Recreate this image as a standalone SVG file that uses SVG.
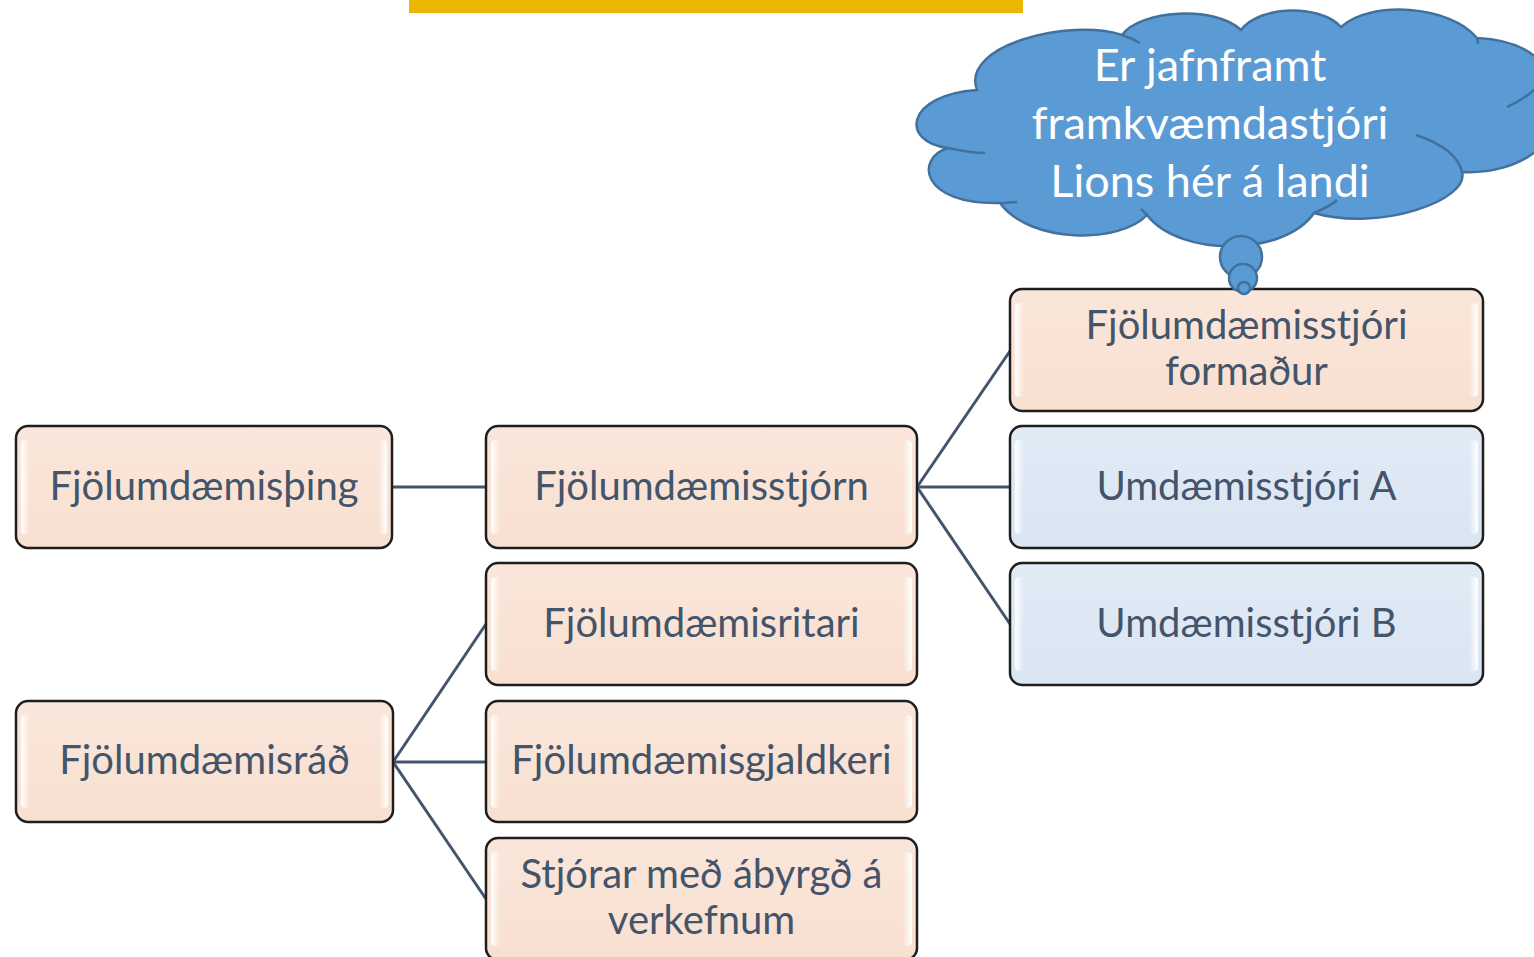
<svg xmlns="http://www.w3.org/2000/svg" width="1534" height="957" viewBox="0 0 1534 957">
<defs>
<linearGradient id="peach" x1="0" y1="0" x2="0" y2="1">
<stop offset="0" stop-color="#FAE6DA"/>
<stop offset="1" stop-color="#F8E0D1"/>
</linearGradient>
<linearGradient id="blue" x1="0" y1="0" x2="0" y2="1">
<stop offset="0" stop-color="#E1EBF6"/>
<stop offset="1" stop-color="#D9E5F2"/>
</linearGradient>
<linearGradient id="glossL" x1="0" y1="0" x2="1" y2="0">
<stop offset="0" stop-color="#FFFFFF" stop-opacity="1"/>
<stop offset="1" stop-color="#FFFFFF" stop-opacity="0"/>
</linearGradient>
<linearGradient id="glossR" x1="1" y1="0" x2="0" y2="0">
<stop offset="0" stop-color="#FFFFFF" stop-opacity="1"/>
<stop offset="1" stop-color="#FFFFFF" stop-opacity="0"/>
</linearGradient>
</defs>
<style>
.box{stroke:#1E1E1E;stroke-width:2.5}
.p{fill:url(#peach)}
.b{fill:url(#blue)}
.gl{fill:url(#glossL)}
.gr{fill:url(#glossR)}
.t{font-family:Lato,"Liberation Sans",sans-serif;font-size:40px;fill:#44546A;text-anchor:middle}
.ct{font-family:Lato,"Liberation Sans",sans-serif;font-size:45px;fill:#FFFFFF;text-anchor:middle}
.con{stroke:#44546A;stroke-width:3;fill:none}
.cloud{fill:#5B9BD5;stroke:#41719C;stroke-width:2.5}
.cin{fill:none;stroke:#41719C;stroke-width:2.5}
</style>
<rect id="topbar" x="409" y="0" width="614" height="13" fill="#EBB700"/>

<g id="connectors">
<line class="con" x1="392" y1="487" x2="486" y2="487"/>
<line class="con" x1="917" y1="487" x2="1010" y2="351"/>
<line class="con" x1="917" y1="487" x2="1010" y2="487"/>
<line class="con" x1="917" y1="487" x2="1010" y2="624"/>
<line class="con" x1="393" y1="762" x2="486" y2="624"/>
<line class="con" x1="393" y1="762" x2="486" y2="762"/>
<line class="con" x1="393" y1="762" x2="486" y2="899"/>
</g>

<g id="n-thing">
<rect class="box p" x="16" y="426" width="376" height="122" rx="12"/>
<rect class="gl" x="21" y="440" width="9" height="94" rx="4"/>
<rect class="gr" x="378" y="440" width="9" height="94" rx="4"/>
<text class="t" x="204" y="500">Fjölumdæmisþing</text>
</g>

<g id="n-stjorn">
<rect class="box p" x="486" y="426" width="431" height="122" rx="12"/>
<rect class="gl" x="491" y="440" width="9" height="94" rx="4"/>
<rect class="gr" x="903" y="440" width="9" height="94" rx="4"/>
<text class="t" x="701.5" y="500">Fjölumdæmisstjórn</text>
</g>

<g id="n-formadur">
<rect class="box p" x="1010" y="289" width="473" height="122" rx="12"/>
<rect class="gl" x="1015" y="303" width="9" height="94" rx="4"/>
<rect class="gr" x="1469" y="303" width="9" height="94" rx="4"/>
<text class="t" x="1246.5" y="339">Fjölumdæmisstjóri</text>
<text class="t" x="1246.5" y="385">formaður</text>
</g>

<g id="n-umdA">
<rect class="box b" x="1010" y="426" width="473" height="122" rx="12"/>
<rect class="gl" x="1015" y="440" width="9" height="94" rx="4"/>
<rect class="gr" x="1469" y="440" width="9" height="94" rx="4"/>
<text class="t" x="1246.5" y="500">Umdæmisstjóri A</text>
</g>

<g id="n-umdB">
<rect class="box b" x="1010" y="563" width="473" height="122" rx="12"/>
<rect class="gl" x="1015" y="577" width="9" height="94" rx="4"/>
<rect class="gr" x="1469" y="577" width="9" height="94" rx="4"/>
<text class="t" x="1246.5" y="637">Umdæmisstjóri B</text>
</g>

<g id="n-ritari">
<rect class="box p" x="486" y="563" width="431" height="122" rx="12"/>
<rect class="gl" x="491" y="577" width="9" height="94" rx="4"/>
<rect class="gr" x="903" y="577" width="9" height="94" rx="4"/>
<text class="t" x="701.5" y="637">Fjölumdæmisritari</text>
</g>

<g id="n-rad">
<rect class="box p" x="16" y="701" width="377" height="121" rx="12"/>
<rect class="gl" x="21" y="715" width="9" height="93" rx="4"/>
<rect class="gr" x="379" y="715" width="9" height="93" rx="4"/>
<text class="t" x="204.5" y="774">Fjölumdæmisráð</text>
</g>

<g id="n-gjaldkeri">
<rect class="box p" x="486" y="701" width="431" height="121" rx="12"/>
<rect class="gl" x="491" y="715" width="9" height="93" rx="4"/>
<rect class="gr" x="903" y="715" width="9" height="93" rx="4"/>
<text class="t" x="701.5" y="774">Fjölumdæmisgjaldkeri</text>
</g>

<g id="n-stjorar">
<rect class="box p" x="486" y="838" width="431" height="122" rx="12"/>
<rect class="gl" x="491" y="852" width="9" height="94" rx="4"/>
<rect class="gr" x="903" y="852" width="9" height="94" rx="4"/>
<text class="t" x="701.5" y="888">Stjórar með ábyrgð á</text>
<text class="t" x="701.5" y="934">verkefnum</text>
</g>

<g id="cloud">
<path class="cloud" d="M948,148 C900,142 905,95 977,90 C960,45 1070,18 1122,35 C1140,10 1215,5 1241,30 C1260,5 1320,4 1341,27 C1370,0 1450,5 1477,38 C1520,40 1560,60 1545,100 C1570,140 1520,175 1462,172 C1470,200 1380,232 1314,213 C1285,256 1180,258 1147,215 C1120,244 1030,244 1000,203 C920,205 915,158 948,148 Z"/>
<path class="cin" d="M948,148 C962,151 975,153 985,153"/>
<path class="cin" d="M1122,35 C1128,37 1135,40 1140,43"/>
<path class="cin" d="M1477,38 C1478,40 1478,42 1478,44"/>
<path class="cin" d="M1534,90 C1525,98 1516,103 1507,107"/>
<path class="cin" d="M1416,135 C1440,143 1458,155 1462,172"/>
<path class="cin" d="M1314,213 C1326,208 1333,204 1337,200"/>
<path class="cin" d="M1147,215 C1145,213 1143,211 1141,209"/>
<path class="cin" d="M1000,203 C1006,203 1012,202 1017,202"/>
<circle class="cloud" cx="1241" cy="257" r="21"/>
<circle class="cloud" cx="1243" cy="278" r="14"/>
<circle class="cloud" cx="1244" cy="288" r="6"/>
<text class="ct" x="1210" y="81">Er jafnframt</text>
<text class="ct" x="1210" y="139">framkvæmdastjóri</text>
<text class="ct" x="1210" y="197">Lions hér á landi</text>
</g>
</svg>
